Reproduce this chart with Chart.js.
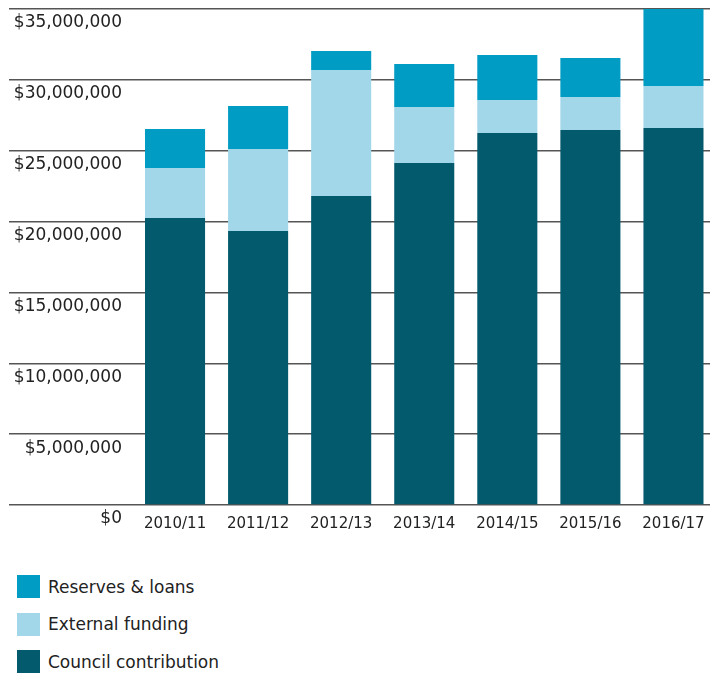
<!DOCTYPE html>
<html>
<head>
<meta charset="utf-8">
<script src="https://cdn.jsdelivr.net/npm/chart.js@4.4.0/dist/chart.umd.min.js"></script>
<style>
    body { margin: 0; width: 710px; height: 673px; overflow: hidden; background: #fff; font-family: "DejaVu Sans", sans-serif; }
    #wrap { position: relative; width: 715px; height: 545px; }
    #legend { position: absolute; left: 17px; top: 575px; }
    .item { display: flex; align-items: center; height: 23px; margin-bottom: 14.5px; font-size: 17px; color: #222; }
    .box { width: 23px; height: 23px; margin-right: 8px; }
</style>
</head>
<body>
<div id="wrap"><canvas id="fundingChart" width="715" height="545"></canvas></div>
<div id="legend"></div>
<script>
let years = ['2010/11', '2011/12', '2012/13', '2013/14', '2014/15', '2015/16', '2016/17'];
let councilContribution = [20250000, 19340000, 21810000, 24140000, 26250000, 26460000, 26610000];
let externalFunding = [3530000, 5780000, 8890000, 3950000, 2330000, 2330000, 2960000];
let reservesLoans = [2750000, 3040000, 1340000, 3030000, 3180000, 2760000, 5430000];
let yTicks = [0, 5000000, 10000000, 15000000, 20000000, 25000000, 30000000, 35000000];

let fundingChartEl = document.getElementById("fundingChart").getContext('2d');
let fundingChart = new Chart(fundingChartEl, {
    type: 'bar',
    data: {
        labels: years,
        datasets: [
            {
                label: 'Council contribution',
                data: councilContribution,
                backgroundColor: '#045a6d'
            },
            {
                label: 'External funding',
                data: externalFunding,
                backgroundColor: '#a2d7e9'
            },
            {
                label: 'Reserves & loans',
                data: reservesLoans,
                backgroundColor: '#009cc3'
            },
        ]
    },
    options: {
        responsive: false,
        animation: false,
        layout: {
            padding: { top: 9, left: 0, right: 0, bottom: 0 }
        },
        datasets: {
            bar: {
                categoryPercentage: 1,
                barPercentage: 0.723,
            }
        },
        scales: {
            x: {
                stacked: true,
                grid: { display: false, drawTicks: false },
                border: { display: false },
                ticks: {
                    padding: 10,
                    color: '#222',
                    font: { family: '"DejaVu Sans"', size: 15 },
                },
                afterFit: function (scale) {
                    scale.height = 40;
                }
            },
            y: {
                stacked: true,
                min: 0,
                max: 35000000,
                afterBuildTicks: function (scale) {
                    scale.ticks = yTicks.map(v => ({ value: v }));
                },
                grid: {
                    color: '#555',
                    lineWidth: 1.5,
                    tickLength: 124.5,
                },
                border: { display: false },
                ticks: {
                    padding: -113,
                    labelOffset: 14,
                    color: '#222',
                    font: { family: '"DejaVu Sans"', size: 17 },
                    callback: function (value) {
                        return '$' + value.toLocaleString('en-US');
                    }
                },
                afterFit: function (scale) {
                    scale.width = 133.5;
                    scale.paddingTop = 0;
                    scale.paddingBottom = 0;
                }
            },
        },
        plugins: {
            legend: { display: false },
            tooltip: { enabled: false },
        },
    }
});

// legend, top to bottom in reverse stack order
let legendEl = document.getElementById("legend");
fundingChart.data.datasets.slice().reverse().forEach(ds => {
    let item = document.createElement('div');
    item.className = 'item';
    let box = document.createElement('span');
    box.className = 'box';
    box.style.background = ds.backgroundColor;
    let txt = document.createElement('span');
    txt.textContent = ds.label;
    item.appendChild(box);
    item.appendChild(txt);
    legendEl.appendChild(item);
});
</script>
</body>
</html>
